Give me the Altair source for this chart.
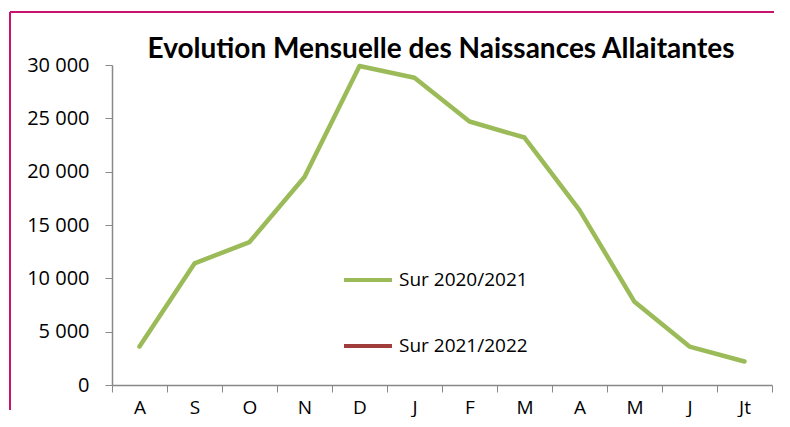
import json
import altair as alt
import pandas as pd

months = ["A", "S", "O", "N", "D", "J", "F", "M", "A", "M", "J", "Jt"]
s2020 = [3600, 11400, 13400, 19500, 29900, 28800, 24700, 23200, 16400, 7800, 3600, 2200]
series = ["Sur 2020/2021", "Sur 2021/2022"]
colors = ["#9BBB59", "#A03C3A"]
yticks = [0, 5000, 10000, 15000, 20000, 25000, 30000]
title_text = "Evolution Mensuelle des Naissances Allaitantes"

df = pd.DataFrame({"idx": list(range(len(months))), "value": s2020, "serie": series[0]})
one_row = pd.DataFrame({"a": [0]})
title_df = pd.DataFrame({"t": [title_text]})

label_expr = json.dumps(months) + "[datum.value]"
LABEL_FONT = "Open Sans"
FRAME = "#C8146E"

line = alt.Chart(df).mark_line(strokeWidth=4.5, strokeCap="round", strokeJoin="round").encode(
    x=alt.X(
        "idx:O",
        bandPosition=0.5,
        scale=alt.Scale(type="band", paddingInner=0, paddingOuter=0),
        axis=alt.Axis(
            title=None, labelAngle=0, labelExpr=label_expr, tickBand="extent",
            domainColor="#888888", tickColor="#888888", tickSize=7, domainWidth=1.5,
            labelFont=LABEL_FONT, labelFontSize=19, labelPadding=6, labelColor="black",
        ),
    ),
    y=alt.Y(
        "value:Q",
        scale=alt.Scale(domain=[0, 30000], nice=False),
        axis=alt.Axis(
            title=None, values=yticks, grid=False,
            labelExpr="replace(format(datum.value, ','), ',', ' ')",
            domainColor="#888888", tickColor="#888888", tickSize=7, domainWidth=1.5,
            labelFont=LABEL_FONT, labelFontSize=20, labelPadding=16, labelColor="black",
        ),
    ),
    color=alt.Color(
        "serie:N",
        scale=alt.Scale(domain=series, range=colors),
        legend=alt.Legend(
            orient="none", legendX=230, legendY=189, title=None,
            symbolType="stroke", symbolSize=2300, symbolStrokeWidth=4,
            labelFont=LABEL_FONT, labelFontSize=19, labelColor="black",
            rowPadding=30, labelOffset=5,
        ),
    ),
)

frame_top = alt.Chart(one_row).mark_rule(stroke=FRAME, strokeWidth=2).encode(
    x=alt.value(-102), x2=alt.value(662), y=alt.value(-53)
)
frame_left = alt.Chart(one_row).mark_rule(stroke=FRAME, strokeWidth=2).encode(
    x=alt.value(-102), y=alt.value(-53), y2=alt.value(345)
)

title = alt.Chart(title_df).mark_text(
    font="Lato", fontSize=28, fontWeight="bold", color="black",
    align="center", baseline="alphabetic",
).encode(text="t:N", x=alt.value(329), y=alt.value(-7))

chart = (
    alt.layer(frame_top, frame_left, title, line)
    .properties(
        width=660,
        height=320,
        padding={"left": 1, "top": 3, "right": 0, "bottom": 0},
    )
    .configure(font="Lato")
    .configure_view(strokeWidth=0, stroke="transparent")
)

chart.save("out.html", embed_options={"renderer": "svg", "actions": False})
